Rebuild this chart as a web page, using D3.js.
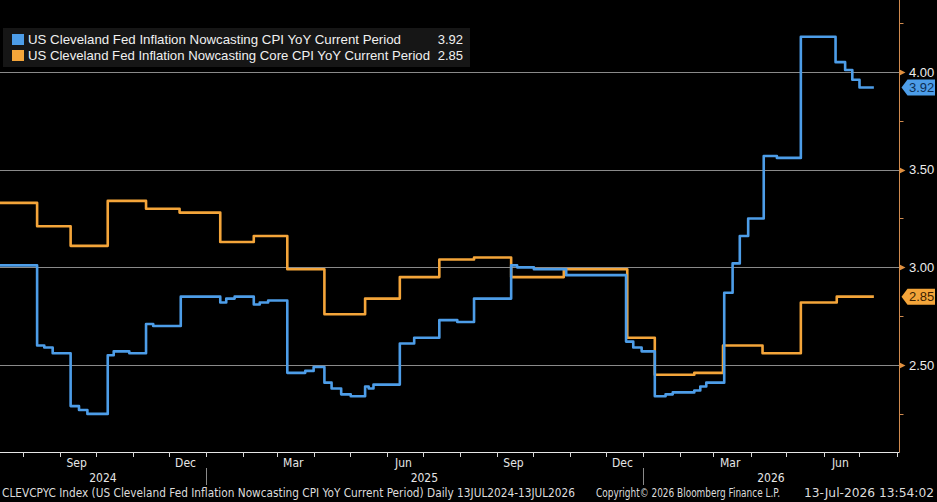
<!DOCTYPE html>
<html lang="en">
<head>
    <meta charset="UTF-8">
    <title>US Cleveland Fed Inflation Nowcasting</title>
    <script src="https://d3js.org/d3.v7.min.js"></script>
    <style>
        body, html {
            margin: 0;
            padding: 0;
            background: #000;
            overflow: hidden;
        }
        text {
            font-family: "Liberation Sans", Arial, sans-serif;
        }
        .narrow {
            font-family: "Liberation Sans Narrow", "DejaVu Sans Condensed", "Liberation Sans", sans-serif;
        }
    </style>
</head>
<body>
    <svg width="937" height="502" id="chart"></svg>
    <script>
        // CPI YoY nowcast (blue)
        const cpiDates = ["2024-07-13", "2024-08-13", "2024-08-19", "2024-08-26", "2024-09-10", "2024-09-17",
            "2024-09-24", "2024-10-11", "2024-10-16", "2024-10-29", "2024-11-12", "2024-11-18", "2024-12-11",
            "2025-01-13", "2025-01-18", "2025-01-25", "2025-02-10", "2025-02-15", "2025-02-22", "2025-03-10",
            "2025-03-25", "2025-04-01", "2025-04-10", "2025-04-16", "2025-04-24", "2025-05-02", "2025-05-14",
            "2025-05-17", "2025-05-21", "2025-06-12", "2025-06-24", "2025-07-15", "2025-07-30", "2025-08-13",
            "2025-09-13", "2025-09-18", "2025-10-02", "2025-10-29", "2025-12-18", "2025-12-24", "2025-12-31",
            "2026-01-11", "2026-01-20", "2026-01-26", "2026-02-13", "2026-02-18", "2026-02-23", "2026-03-10",
            "2026-03-17", "2026-03-23", "2026-03-30", "2026-04-12", "2026-04-23", "2026-05-13", "2026-06-11",
            "2026-06-19", "2026-06-25", "2026-07-01", "2026-07-13"];
        const cpiValues = [3.01, 2.60, 2.59, 2.56, 2.29, 2.27,
            2.25, 2.55, 2.57, 2.56, 2.71, 2.70, 2.85,
            2.82, 2.84, 2.85, 2.81, 2.82, 2.83, 2.46,
            2.47, 2.49, 2.41, 2.38, 2.35, 2.34, 2.39,
            2.38, 2.40, 2.61, 2.64, 2.73, 2.72, 2.84,
            3.01, 3.00, 2.99, 2.96, 2.62, 2.59, 2.57,
            2.34, 2.35, 2.36, 2.37, 2.39, 2.41, 2.87,
            3.02, 3.16, 3.25, 3.57, 3.56, 4.18, 4.05,
            4.01, 3.96, 3.92, 3.92];

        // Core CPI YoY nowcast (orange)
        const coreDates = ["2024-07-13", "2024-08-13", "2024-09-10", "2024-10-11", "2024-11-12", "2024-12-10",
            "2025-01-13", "2025-02-10", "2025-03-10", "2025-04-10", "2025-05-14", "2025-06-12", "2025-07-15",
            "2025-08-13", "2025-09-13", "2025-10-27", "2025-12-19", "2026-01-11", "2026-02-13", "2026-03-09",
            "2026-04-11", "2026-05-13", "2026-06-12", "2026-07-13"];
        const coreValues = [3.33, 3.21, 3.11, 3.34, 3.30, 3.28,
            3.13, 3.16, 2.99, 2.76, 2.84, 2.95, 3.04,
            3.05, 2.95, 2.99, 2.64, 2.45, 2.46, 2.60,
            2.56, 2.82, 2.85, 2.85];

        const legendNames = ["US Cleveland Fed Inflation Nowcasting CPI YoY Current Period",
            "US Cleveland Fed Inflation Nowcasting Core CPI YoY Current Period"];
        const lastValues = [3.92, 2.85];
        const yTicks = [2.5, 3.0, 3.5, 4.0];
        const yMinorTicks = [2.25, 2.75, 3.25, 3.75, 4.25];
        const monthLabels = ["2024-09-15", "2024-12-15", "2025-03-15", "2025-06-15", "2025-09-15",
            "2025-12-15", "2026-03-15", "2026-06-15"];
        const yearLabels = [["2024", "2024-07-13", "2025-01-01"], ["2025", "2025-01-01", "2026-01-01"],
            ["2026", "2026-01-01", "2026-08-03"]];
        const footerTexts = ["CLEVCPYC Index (US Cleveland Fed Inflation Nowcasting CPI YoY Current Period) Daily 13JUL2024-13JUL2026",
            "Copyright\u00A9 2026 Bloomberg Finance L.P.", "13-Jul-2026 13:54:02"];

        const blue = "#4d9de8";
        const orange = "#f4a53a";
        const parse = d3.timeParse("%Y-%m-%d");

        const svg = d3.select("#chart");
        const plotW = 899, plotH = 452;

        const x = d3.scaleTime()
            .domain([parse("2024-07-13"), parse("2026-08-03")])
            .range([0, plotW]);
        const y = d3.scaleLinear()
            .domain([2.055, 4.368])
            .range([plotH, 0]);

        svg.append("rect").attr("width", 937).attr("height", 502).attr("fill", "#000");

        // gridlines
        svg.append("g").selectAll("line")
            .data(yTicks)
            .enter().append("line")
            .attr("x1", 0).attr("x2", plotW)
            .attr("y1", d => Math.round(y(d)) + 0.5).attr("y2", d => Math.round(y(d)) + 0.5)
            .attr("stroke", "#8a8a8a").attr("stroke-width", 1);

        // series
        const series = [
            { dates: cpiDates, values: cpiValues, color: blue },
            { dates: coreDates, values: coreValues, color: orange }
        ];
        const line = d3.line()
            .x(d => x(d[0]))
            .y(d => y(d[1]))
            .curve(d3.curveStepAfter);

        // draw orange first, blue on top
        [series[1], series[0]].forEach(s => {
            const pts = s.dates.map((d, i) => [parse(d), s.values[i]]);
            svg.append("path")
                .attr("d", line(pts))
                .attr("fill", "none")
                .attr("stroke", s.color)
                .attr("stroke-width", 2.6)
                .attr("stroke-linejoin", "round");
        });

        // right axis
        const axisX = plotW + 0.5;
        svg.append("line")
            .attr("x1", axisX).attr("x2", axisX).attr("y1", 0).attr("y2", plotH)
            .attr("stroke", "#d08a4e").attr("stroke-width", 1);
        svg.append("line")
            .attr("x1", 0).attr("x2", axisX).attr("y1", plotH + 0.5).attr("y2", plotH + 0.5)
            .attr("stroke", "#e6e6e6").attr("stroke-width", 1);

        svg.append("g").selectAll("line")
            .data(yMinorTicks)
            .enter().append("line")
            .attr("x1", axisX).attr("x2", axisX + 4)
            .attr("y1", d => Math.round(y(d)) + 0.5).attr("y2", d => Math.round(y(d)) + 0.5)
            .attr("stroke", "#d08a4e");

        svg.append("g").selectAll("path")
            .data(yTicks)
            .enter().append("path")
            .attr("d", d => {
                const yy = Math.round(y(d)) + 0.5;
                return `M${axisX},${yy - 3}L${axisX + 6},${yy}L${axisX},${yy + 3}Z`;
            })
            .attr("fill", "#e09040");

        svg.append("g").selectAll("text")
            .data(yTicks)
            .enter().append("text")
            .attr("x", 909).attr("y", d => y(d))
            .attr("dy", "0.36em")
            .attr("fill", "#ececec")
            .attr("font-size", 13)
            .text(d => d3.format(".2f")(d));

        // last value flags
        lastValues.forEach((v, i) => {
            const yy = y(v);
            const c = i === 0 ? blue : orange;
            svg.append("path")
                .attr("d", `M${axisX + 2},${yy}L${axisX + 8},${yy - 8}L${935},${yy - 8}L${935},${yy + 8}L${axisX + 8},${yy + 8}Z`)
                .attr("fill", c);
            svg.append("text")
                .attr("x", 909).attr("y", yy)
                .attr("dy", "0.36em")
                .attr("font-size", 13)
                .attr("fill", i === 0 ? "#0e2f55" : "#3b1f00")
                .text(d3.format(".2f")(v));
        });

        // x axis: month ticks
        const months = d3.timeMonth.range(parse("2024-07-14"), parse("2026-08-03"));
        svg.append("g").selectAll("line")
            .data(months)
            .enter().append("line")
            .attr("x1", d => Math.round(x(d)) + 0.5).attr("x2", d => Math.round(x(d)) + 0.5)
            .attr("y1", plotH).attr("y2", plotH + 5)
            .attr("stroke", "#d8d8d8");

        svg.append("g").selectAll("text")
            .data(monthLabels)
            .enter().append("text")
            .attr("class", "narrow")
            .attr("x", d => x(parse(d)))
            .attr("y", 467)
            .attr("text-anchor", "middle")
            .attr("font-size", 12)
            .attr("fill", "#e6e6e6")
            .text(d => d3.timeFormat("%b")(parse(d)));

        // year labels and separators
        svg.append("g").selectAll("text")
            .data(yearLabels)
            .enter().append("text")
            .attr("class", "narrow")
            .attr("x", d => (x(parse(d[1])) + x(parse(d[2]))) / 2)
            .attr("y", 482)
            .attr("text-anchor", "middle")
            .attr("font-size", 12)
            .attr("fill", "#e6e6e6")
            .text(d => d[0]);
        svg.append("g").selectAll("line")
            .data(yearLabels.slice(1))
            .enter().append("line")
            .attr("x1", d => Math.round(x(parse(d[1]))) + 0.5).attr("x2", d => Math.round(x(parse(d[1]))) + 0.5)
            .attr("y1", 468).attr("y2", 485)
            .attr("stroke", "#8a8a8a");

        // legend
        svg.append("rect")
            .attr("x", 3).attr("y", 28).attr("width", 467).attr("height", 39)
            .attr("fill", "#161616");
        legendNames.forEach((name, i) => {
            const yy = 34 + i * 16;
            svg.append("rect")
                .attr("x", 12).attr("y", yy).attr("width", 12).attr("height", 11)
                .attr("fill", i === 0 ? blue : orange);
            svg.append("text")
                .attr("x", 28).attr("y", yy + 10)
                .attr("font-size", 13)
                .attr("fill", "#f0f0f0")
                .attr("textLength", i === 0 ? 373 : 402)
                .attr("lengthAdjust", "spacingAndGlyphs")
                .text(name);
            svg.append("text")
                .attr("x", 463).attr("y", yy + 10)
                .attr("text-anchor", "end")
                .attr("font-size", 13)
                .attr("fill", "#f0f0f0")
                .text(d3.format(".2f")(lastValues[i]));
        });

        // footer
        const footerX = [2, 596, 804];
        const footerW = [573, 184, 130];
        svg.append("g").selectAll("text")
            .data(footerTexts)
            .enter().append("text")
            .attr("class", "narrow")
            .attr("x", (d, i) => footerX[i])
            .attr("y", 497)
            .attr("font-size", 11.5)
            .attr("fill", "#dcdcdc")
            .attr("textLength", (d, i) => footerW[i])
            .attr("lengthAdjust", "spacingAndGlyphs")
            .text(d => d);
    </script>
</body>
</html>
